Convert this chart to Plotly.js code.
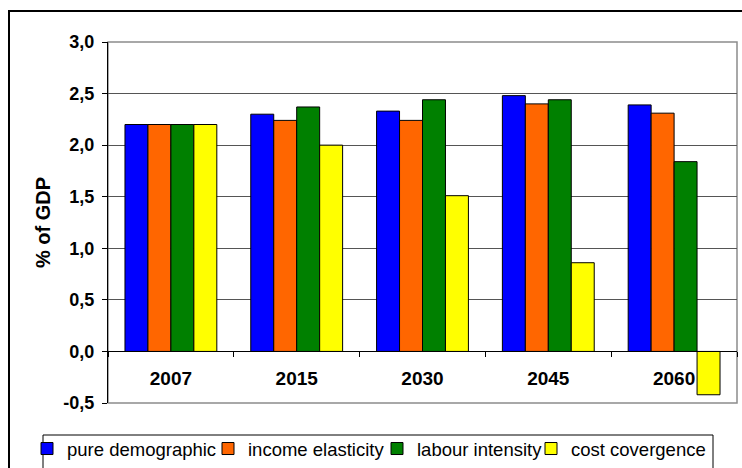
<!DOCTYPE html>
<html>
<head>
<meta charset="utf-8">
<script src="https://cdn.plot.ly/plotly-3.0.1.min.js"></script>
<style>
  html, body { margin: 0; padding: 0; background: #fff; }
  #chart { width: 742px; height: 468px; }
</style>
</head>
<body>
<div id="chart"></div>
<script>
// Health-care spending projections, % of GDP, under four scenarios
const years = ['2007', '2015', '2030', '2045', '2060'];
const pureDemographic   = [2.20, 2.30, 2.33, 2.48, 2.39];
const incomeElasticity  = [2.20, 2.24, 2.24, 2.40, 2.31];
const labourIntensity   = [2.20, 2.37, 2.44, 2.44, 1.84];
const costConvergence   = [2.20, 2.00, 1.51, 0.86, -0.42];

// value axis ticks, written with decimal commas
const yTickVals = [-0.5, 0, 0.5, 1, 1.5, 2, 2.5, 3];
const yTickText = ['-0,5', '0,0', '0,5', '1,0', '1,5', '2,0', '2,5', '3,0'];

const seriesNames  = ['pure demographic', 'income elasticity', 'labour intensity', 'cost covergence'];
const seriesValues = [pureDemographic, incomeElasticity, labourIntensity, costConvergence];
const seriesColors = ['#0000ff', '#ff6600', '#008000', '#ffff00'];

const FONT = 'Arial, "Liberation Sans", sans-serif';

// plot box in pixels; helpers convert page pixels to paper fractions
const L = 108, R = 5, T = 42, B = 65, W = 742, H = 468;
const pw = W - L - R, ph = H - T - B;
const px = x => (x - L) / pw;
const py = y => (H - B - y) / ph;

// one legend per series so each entry sits at its own spot in the key row
const legendIds = ['legend', 'legend2', 'legend3', 'legend4'];
const legendItemStart = [27, 208, 377, 531];

const traces = seriesNames.map((name, i) => ({
  type: 'bar',
  name: name,
  x: years,
  y: seriesValues[i],
  legend: legendIds[i],
  marker: { color: seriesColors[i], line: { color: '#000', width: 1 } }
}));

const layout = {
  width: W, height: H,
  margin: { l: L, r: R, t: T, b: B, pad: 0, autoexpand: false },
  paper_bgcolor: '#fff',
  plot_bgcolor: '#fff',
  showlegend: true,
  font: { family: FONT, color: '#000' },
  barmode: 'group',
  bargap: 0.27,
  bargroupgap: 0,
  // category axis drawn along the zero line
  xaxis: {
    type: 'category',
    anchor: 'free',
    position: 0.5 / 3.5,
    range: [-0.5, 4.5],
    showline: true, linecolor: '#000', linewidth: 1,
    ticks: 'outside', tickson: 'boundaries', ticklen: 5, tickcolor: '#000', tickwidth: 1,
    ticklabelstandoff: 10,
    tickfont: { family: FONT, size: 19, color: '#000', weight: 'bold' },
    showgrid: false, zeroline: false
  },
  yaxis: {
    range: [-0.5, 3.0],
    tickmode: 'array', tickvals: yTickVals, ticktext: yTickText,
    showline: true, linecolor: '#000', linewidth: 1,
    ticks: 'outside', ticklen: 5, tickcolor: '#000', tickwidth: 1,
    ticklabelstandoff: 4,
    tickfont: { family: FONT, size: 18, color: '#000', weight: 'bold' },
    showgrid: true, gridcolor: '#555', gridwidth: 1,
    zeroline: false,
    title: { text: '% of GDP', standoff: 7, font: { family: FONT, size: 20, color: '#000', weight: 'bold' } }
  },
  shapes: [
    // plot frame
    { type: 'rect', xref: 'paper', yref: 'paper', x0: 0, x1: 1, y0: 0, y1: 1,
      line: { color: '#8c8c8c', width: 1.5 }, layer: 'below' },
    // outer chart border
    { type: 'rect', xref: 'paper', yref: 'paper', x0: px(9), x1: px(800), y0: py(520), y1: py(11),
      line: { color: '#000', width: 2 }, fillcolor: 'rgba(0,0,0,0)' },
    // key box
    { type: 'rect', xref: 'paper', yref: 'paper', x0: px(43), x1: px(713), y0: py(520), y1: py(435),
      line: { color: '#000', width: 1 }, fillcolor: 'rgba(0,0,0,0)' }
  ]
};

legendIds.forEach((id, i) => {
  layout[id] = {
    orientation: 'h',
    x: px(legendItemStart[i]), xanchor: 'left',
    y: py(449), yanchor: 'middle',
    bgcolor: 'rgba(0,0,0,0)', borderwidth: 0,
    font: { family: FONT, size: 18.5, color: '#000' }
  };
});

Plotly.newPlot('chart', traces, layout, { displayModeBar: false, staticPlot: true });
</script>
</body>
</html>
